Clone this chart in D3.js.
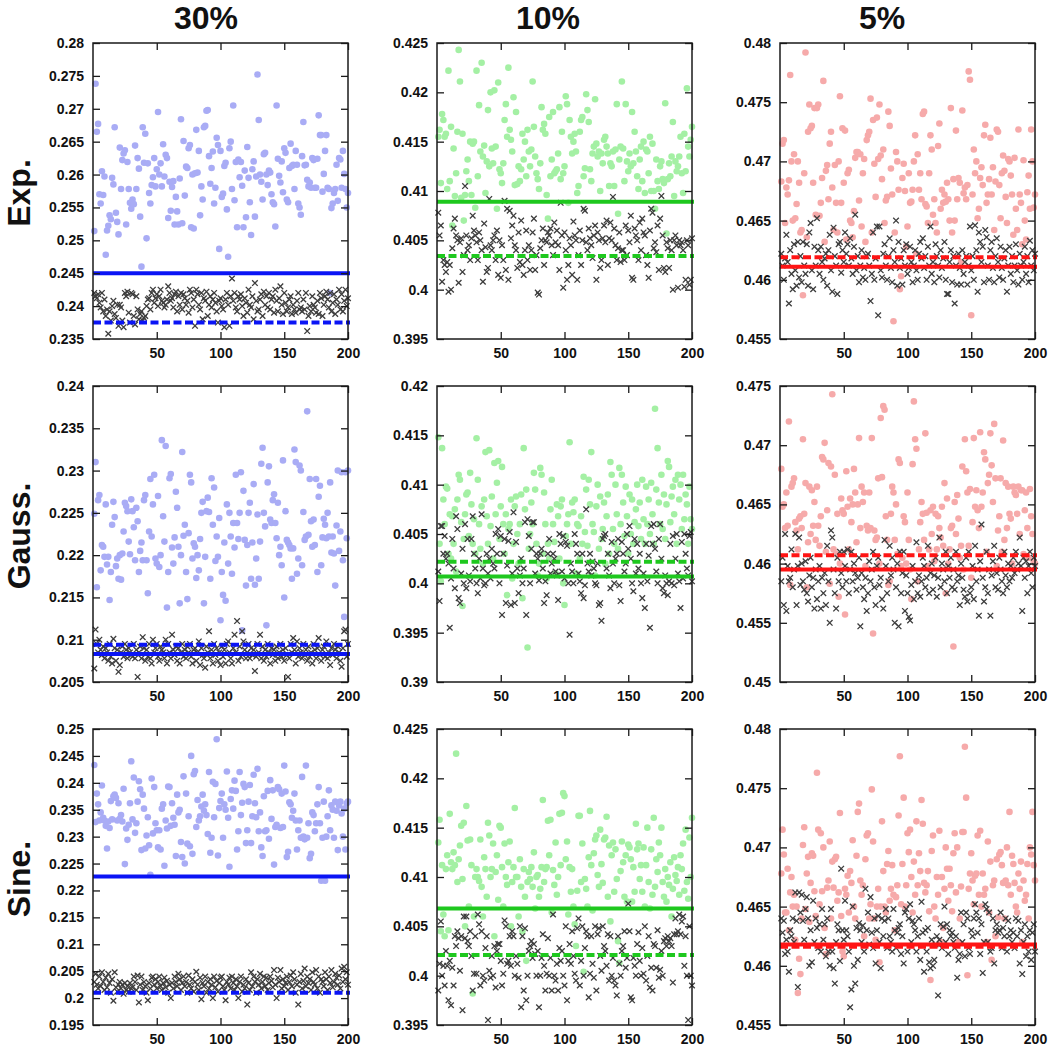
<!DOCTYPE html>
<html>
<head>
<meta charset="utf-8">
<script src="https://cdn.jsdelivr.net/npm/d3@7"></script>
<style>
html,body{margin:0;padding:0;background:#fff;}
svg{display:block;font-family:"Liberation Sans",Arial,Helvetica,sans-serif;}
</style>
</head>
<body>
<svg id="chart" width="1050" height="1050"></svg>
<script>
const rowNames = ["Exp.", "Gauss.", "Sine."];
const colNames = ["30%", "10%", "5%"];
const xTicks = [50, 100, 150, 200];
const yDomains = [[0.235,0.28],[0.395,0.425],[0.455,0.48],[0.205,0.24],[0.39,0.42],[0.45,0.475],[0.195,0.25],[0.395,0.425],[0.455,0.48]];
const solidLevels = [0.2450,0.4089,0.4611,0.2083,0.4007,0.4595,0.2226,0.4068,0.4618];
const dashedLevels = [0.2375,0.4034,0.4619,0.2094,0.4022,0.4607,0.2010,0.4021,0.4616];

const expDots30 = [.2514,.2738,.2665,.2677,.2570,.2556,.2605,.2569,.2597,.2478,
.2515,.2522,.2538,.2532,.2595,.2585,.2672,.2542,.2528,.2509,
.2641,.2578,.2622,.2632,.2637,.2524,.2619,.2578,.2557,.2548,
.2562,.2555,.2644,.2578,.2625,.2609,.2536,.2460,.2672,.2618,
.2662,.2503,.2617,.2572,.2556,.2584,.2596,.2625,.2582,.2608,
.2695,.2600,.2617,.2582,.2646,.2597,.2630,.2625,.2534,.2589,
.2545,.2581,.2590,.2524,.2566,.2544,.2524,.2594,.2684,.2526,
.2651,.2568,.2612,.2610,.2640,.2645,.2520,.2600,.2518,.2602,
.2668,.2603,.2636,.2538,.2582,.2562,.2672,.2674,.2697,.2698,
.2628,.2586,.2610,.2635,.2556,.2580,.2656,.2645,.2487,.2636,
.2566,.2571,.2613,.2618,.2547,.2475,.2640,.2650,.2578,.2705,
.2561,.2619,.2520,.2623,.2596,.2619,.2583,.2520,.2606,.2535,
.2642,.2595,.2558,.2508,.2608,.2620,.2536,.2597,.2752,.2683,
.2600,.2589,.2562,.2631,.2633,.2600,.2584,.2606,.2603,.2570,
.2558,.2555,.2521,.2705,.2624,.2598,.2588,.2620,.2573,.2640,
.2633,.2562,.2558,.2610,.2647,.2613,.2615,.2578,.2636,.2615,
.2556,.2550,.2539,.2628,.2680,.2614,.2615,.2592,.2582,.2588,
.2580,.2625,.2622,.2580,.2580,.2624,.2690,.2660,.2660,.2574,
.2601,.2636,.2660,.2580,.2578,.2420,.2549,.2556,.2572,.2578,
.2615,.2560,.2625,.2623,.2580,.2636,.2601,.2578,.2550,.2572];
const expCross30 = [.2420,.2415,.2412,.2418,.2405,.2398,.2420,.2392,.2410,.2385,
.2395,.2358,.2392,.2378,.2400,.2408,.2388,.2382,.2402,.2370,
.2402,.2398,.2378,.2368,.2420,.2415,.2422,.2390,.2375,.2420,
.2418,.2385,.2372,.2415,.2395,.2380,.2388,.2392,.2378,.2382,
.2385,.2400,.2410,.2412,.2395,.2420,.2425,.2405,.2412,.2418,
.2400,.2415,.2425,.2408,.2405,.2398,.2402,.2410,.2430,.2420,
.2408,.2412,.2398,.2418,.2422,.2392,.2415,.2402,.2420,.2395,
.2418,.2412,.2402,.2408,.2390,.2425,.2420,.2398,.2410,.2370,
.2425,.2418,.2402,.2395,.2420,.2380,.2412,.2408,.2422,.2385,
.2402,.2415,.2398,.2410,.2420,.2405,.2392,.2375,.2408,.2412,
.2400,.2395,.2368,.2410,.2420,.2402,.2370,.2415,.2442,.2408,
.2420,.2398,.2392,.2415,.2410,.2418,.2400,.2385,.2412,.2405,
.2390,.2425,.2402,.2398,.2415,.2380,.2435,.2408,.2392,.2395,
.2410,.2418,.2385,.2422,.2402,.2415,.2398,.2420,.2395,.2410,
.2415,.2390,.2425,.2408,.2392,.2412,.2430,.2402,.2388,.2420,
.2405,.2392,.2398,.2410,.2415,.2388,.2402,.2395,.2390,.2408,
.2420,.2395,.2398,.2392,.2410,.2395,.2420,.2362,.2385,.2400,
.2392,.2415,.2402,.2398,.2390,.2408,.2388,.2420,.2412,.2385,
.2402,.2415,.2422,.2410,.2398,.2420,.2392,.2405,.2418,.2388,
.2410,.2402,.2425,.2395,.2418,.2392,.2408,.2425,.2400,.2412];

const expDots10 = [.4155,.4162,.4108,.4178,.4172,.4155,.4158,.4102,.4222,.4110,
.4165,.4065,.4143,.4095,.4118,.4160,.4243,.4211,.4093,.4158,
.4070,.4096,.4120,.4132,.4110,.4150,.4096,.4148,.4150,.4083,
.4222,.4115,.4187,.4140,.4230,.4135,.4146,.4098,.4130,.4182,
.4125,.4200,.4143,.4128,.4202,.4145,.4082,.4210,.4122,.4118,
.4108,.4128,.4172,.4188,.4155,.4225,.4162,.4152,.4140,.4195,
.4106,.4180,.4107,.4125,.4110,.4122,.4158,.4132,.4150,.4115,
.4162,.4140,.4125,.4142,.4211,.4165,.4135,.4118,.4112,.4102,
.4128,.4185,.4162,.4168,.4158,.4096,.4072,.4175,.4115,.4132,
.4180,.4118,.4120,.4122,.4138,.4185,.4112,.4160,.4118,.4125,
.4196,.4188,.4088,.4172,.4155,.4138,.4150,.4158,.4140,.4098,
.4105,.4160,.4172,.4175,.4115,.4123,.4198,.4182,.4170,.4122,
.4110,.4138,.4145,.4193,.4148,.4135,.4140,.4100,.4138,.4128,
.4152,.4155,.4145,.4138,.4105,.4128,.4125,.4140,.4105,.4142,
.4188,.4077,.4132,.4145,.4211,.4143,.4110,.4188,.4130,.4120,
.4138,.4125,.4180,.4128,.4160,.4140,.4115,.4102,.4132,.4145,
.4110,.4150,.4098,.4142,.4140,.4118,.4155,.4100,.4148,.4100,
.4082,.4132,.4110,.4102,.4125,.4130,.4112,.4108,.4189,.4057,
.4112,.4128,.4115,.4135,.4170,.4095,.4130,.4120,.4125,.4135,
.4155,.4118,.4098,.4158,.4120,.4204,.4145,.4135,.4152,.4165];
const expCross10 = [.4078,.4055,.4065,.4008,.4030,.4025,.4018,.4028,.3998,.4025,
.4000,.4042,.4062,.4072,.4055,.4050,.4007,.4048,.4052,.4018,
.4035,.4105,.4055,.4040,.4045,.4030,.4052,.4075,.4060,.4055,
.4048,.4030,.4058,.4050,.4040,.4008,.4067,.4043,.4018,.4022,
.4092,.4045,.4040,.4050,.4055,.4030,.4060,.4015,.4050,.4012,
.4045,.4030,.4090,.4020,.4082,.4010,.4080,.4052,.4065,.4075,
.4045,.4040,.4022,.4058,.4028,.4070,.4025,.4015,.4040,.4060,
.4030,.4045,.4020,.4040,.4058,.4072,.4020,.4035,.3997,.3995,
.4042,.4050,.4062,.4025,.4050,.4048,.4058,.4055,.4062,.4045,
.4035,.4068,.4048,.4060,.4045,.4020,.4088,.4055,.4002,.4058,
.4040,.4010,.4025,.4052,.4045,.4015,.4069,.4055,.4050,.4010,
.4035,.4060,.4025,.4050,.4082,.4080,.4048,.4040,.4062,.4052,
.4045,.4032,.4055,.4065,.4010,.4058,.4050,.4022,.4030,.4052,
.4065,.4048,.4070,.4025,.4052,.4068,.4050,.4094,.4062,.4045,
.4030,.4042,.4058,.4028,.4040,.4040,.4030,.4065,.4035,.4060,
.4048,.4075,.4012,.4010,.4062,.4055,.4050,.4030,.4068,.4040,
.4072,.4058,.4055,.4035,.4025,.4012,.4060,.4082,.4078,.4042,
.4048,.4038,.4065,.4020,.4072,.4095,.4055,.4022,.4018,.4048,
.4042,.4022,.4050,.4040,.4000,.4050,.4055,.4045,.4002,.4050,
.4045,.4048,.4040,.4003,.4010,.4050,.4045,.4005,.4010,.4052];

const expDots5 = [.4683,.4715,.4718,.4648,.4678,.4672,.4684,.4773,.4700,.4650,
.4706,.4652,.4664,.4700,.4682,.4640,.4642,.4587,.4690,.4792,
.4636,.4725,.4748,.4728,.4730,.4682,.4745,.4655,.4745,.4748,
.4654,.4665,.4686,.4768,.4632,.4692,.4697,.4668,.4715,.4725,
.4678,.4642,.4697,.4665,.4640,.4700,.4755,.4665,.4728,.4682,
.4726,.4634,.4690,.4693,.4650,.4648,.4636,.4658,.4703,.4708,
.4708,.4667,.4706,.4645,.4690,.4702,.4632,.4718,.4722,.4725,
.4753,.4640,.4735,.4698,.4670,.4737,.4702,.4748,.4705,.4685,
.4710,.4648,.4667,.4670,.4742,.4730,.4694,.4672,.4565,.4640,
.4708,.4700,.4676,.4592,.4603,.4686,.4698,.4675,.4628,.4645,
.4690,.4665,.4666,.4676,.4700,.4722,.4622,.4706,.4676,.4690,
.4668,.4740,.4742,.4664,.4662,.4648,.4690,.4722,.4710,.4655,
.4668,.4648,.4640,.4713,.4732,.4660,.4676,.4665,.4672,.4666,
.4682,.4668,.4650,.4745,.4640,.4685,.4650,.4726,.4668,.4686,
.4682,.4615,.4743,.4673,.4678,.4668,.4680,.4776,.4769,.4570,
.4672,.4710,.4690,.4700,.4652,.4660,.4686,.4695,.4680,.4722,
.4731,.4665,.4672,.4685,.4720,.4672,.4695,.4642,.4683,.4727,
.4725,.4680,.4652,.4690,.4705,.4692,.4670,.4648,.4702,.4700,
.4688,.4672,.4638,.4703,.4660,.4642,.4727,.4672,.4665,.4630,
.4701,.4650,.4634,.4674,.4688,.4660,.4727,.4700,.4661,.4672];
const expCross5 = [.4622,.4612,.4600,.4618,.4638,.4615,.4580,.4625,.4605,.4592,
.4630,.4608,.4595,.4632,.4602,.4620,.4598,.4632,.4612,.4605,
.4630,.4595,.4640,.4648,.4608,.4592,.4628,.4612,.4652,.4625,
.4605,.4628,.4615,.4600,.4618,.4622,.4595,.4625,.4638,.4608,
.4590,.4644,.4620,.4612,.4588,.4630,.4632,.4606,.4625,.4615,
.4640,.4622,.4630,.4612,.4635,.4618,.4605,.4628,.4655,.4608,
.4620,.4598,.4612,.4625,.4602,.4610,.4600,.4620,.4622,.4612,
.4582,.4605,.4640,.4600,.4618,.4645,.4570,.4645,.4608,.4602,
.4622,.4630,.4612,.4600,.4620,.4635,.4610,.4598,.4625,.4615,
.4650,.4595,.4632,.4610,.4618,.4596,.4625,.4612,.4630,.4605,
.4610,.4628,.4615,.4598,.4612,.4625,.4608,.4600,.4622,.4632,
.4618,.4635,.4610,.4620,.4600,.4628,.4612,.4645,.4605,.4615,
.4598,.4630,.4620,.4612,.4602,.4625,.4610,.4618,.4632,.4600,
.4588,.4588,.4615,.4625,.4598,.4620,.4580,.4612,.4596,.4622,
.4610,.4596,.4625,.4605,.4615,.4620,.4596,.4612,.4645,.4608,
.4620,.4600,.4646,.4625,.4590,.4640,.4632,.4615,.4628,.4598,
.4642,.4636,.4612,.4600,.4625,.4632,.4610,.4598,.4620,.4635,
.4615,.4602,.4628,.4610,.4600,.4618,.4625,.4590,.4612,.4628,
.4605,.4620,.4598,.4612,.4630,.4608,.4596,.4622,.4612,.4600,
.4615,.4628,.4605,.4620,.4598,.4633,.4612,.4625,.4608,.4622];

const gaussDots30 = [.2249,.2310,.2162,.2265,.2271,.2182,.2212,.2210,.2198,.2260,
.2189,.2198,.2147,.2180,.2236,.2263,.2245,.2187,.2196,.2172,
.2200,.2171,.2202,.2228,.2262,.2258,.2252,.2216,.2201,.2266,
.2252,.2233,.2194,.2256,.2240,.2180,.2205,.2215,.2194,.2265,
.2271,.2194,.2155,.2228,.2290,.2222,.2260,.2295,.2196,.2190,
.2270,.2186,.2200,.2336,.2246,.2216,.2329,.2138,.2180,.2291,
.2296,.2209,.2190,.2221,.2275,.2256,.2210,.2143,.2200,.2322,
.2223,.2236,.2180,.2148,.2226,.2295,.2286,.2196,.2214,.2210,
.2173,.2200,.2182,.2219,.2250,.2263,.2143,.2198,.2252,.2268,
.2251,.2172,.2291,.2236,.2280,.2193,.2222,.2198,.2244,.2123,
.2180,.2153,.2215,.2146,.2260,.2190,.2250,.2222,.2178,.2238,
.2209,.2295,.2238,.2219,.2250,.2298,.2111,.2276,.2218,.2164,
.2212,.2250,.2262,.2172,.2215,.2284,.2165,.2196,.2248,.2172,
.2216,.2308,.2327,.2250,.2234,.2117,.2286,.2305,.2242,.2238,
.2265,.2272,.2238,.2220,.2262,.2200,.2210,.2188,.2312,.2150,
.2252,.2218,.2215,.2212,.2208,.2172,.2208,.2325,.2310,.2178,
.2196,.2306,.2300,.2188,.2251,.2218,.2222,.2370,.2224,.2290,
.2240,.2210,.2242,.2212,.2290,.2180,.2269,.2282,.2188,.2221,
.2243,.2236,.2220,.2250,.2222,.2286,.2203,.2222,.2202,.2164,
.2235,.2300,.2205,.2228,.2298,.2194,.2127,.2298,.2220,.2300];
const gaussCross30 = [.2066,.2112,.2095,.2085,.2100,.2088,.2082,.2092,.2078,.2090,
.2085,.2075,.2095,.2080,.2072,.2101,.2090,.2075,.2088,.2062,
.2070,.2085,.2092,.2080,.2095,.2088,.2078,.2090,.2085,.2082,
.2080,.2095,.2078,.2088,.2056,.2085,.2092,.2078,.2103,.2090,
.2075,.2088,.2080,.2095,.2078,.2072,.2100,.2085,.2090,.2095,
.2080,.2075,.2092,.2088,.2085,.2078,.2100,.2072,.2095,.2085,
.2078,.2106,.2088,.2082,.2092,.2075,.2090,.2072,.2085,.2095,
.2080,.2088,.2078,.2092,.2085,.2095,.2080,.2072,.2088,.2090,
.2075,.2085,.2098,.2070,.2090,.2082,.2078,.2067,.2092,.2085,
.2110,.2078,.2088,.2072,.2095,.2082,.2090,.2075,.2085,.2070,
.2092,.2080,.2088,.2072,.2095,.2098,.2085,.2078,.2072,.2090,
.2106,.2085,.2122,.2075,.2092,.2080,.2110,.2098,.2088,.2078,
.2085,.2095,.2078,.2090,.2082,.2088,.2063,.2080,.2095,.2085,
.2106,.2078,.2092,.2075,.2088,.2080,.2095,.2085,.2072,.2090,
.2082,.2088,.2075,.2092,.2078,.2085,.2095,.2080,.2088,.2075,
.2090,.2082,.2056,.2078,.2095,.2085,.2102,.2088,.2072,.2098,
.2080,.2090,.2085,.2078,.2095,.2082,.2088,.2075,.2092,.2080,
.2085,.2072,.2095,.2088,.2078,.2090,.2102,.2082,.2075,.2088,
.2092,.2080,.2098,.2078,.2085,.2070,.2090,.2082,.2095,.2088,
.2078,.2092,.2085,.2075,.2068,.2090,.2110,.2112,.2080,.2095];

const gaussDots10 = [.4148,.4040,.4002,.4137,.4085,.4060,.4098,.4096,.4030,.4070,
.4025,.4068,.4040,.4075,.4012,.4085,.4110,.4105,.4062,.3977,
.4045,.4070,.4090,.4092,.4048,.4112,.4080,.4040,.4065,.4030,
.4147,.4105,.4060,.4035,.4078,.4020,.4085,.4133,.4068,.4040,
.4135,.4058,.4088,.4025,.4122,.4070,.4102,.4124,.4045,.4078,
.4118,.4060,.4030,.4070,.3988,.4055,.4060,.4085,.4005,.4040,
.4078,.4088,.4050,.4020,.4060,.4090,.3985,.4137,.4075,.4095,
.3935,.4035,.4050,.4082,.4060,.4112,.4095,.4040,.4008,.4020,
.4117,.4110,.4030,.4092,.4060,.4005,.4040,.4025,.4075,.4105,
.4060,.4042,.4010,.4080,.4068,.4025,.4078,.4085,.4000,.3978,
.4048,.4060,.4070,.4143,.4040,.4082,.4072,.4085,.4010,.4060,
.4058,.4025,.4068,.4040,.4108,.4052,.4095,.4038,.4105,.4080,
.4133,.4060,.4052,.4008,.4078,.4100,.4035,.4088,.4045,.4055,
.4082,.4020,.4068,.4090,.4030,.4123,.4110,.4055,.4040,.4100,
.4070,.4035,.4117,.4060,.4110,.4082,.4048,.4098,.4068,.4030,
.4090,.4050,.4085,.4040,.4062,.4075,.4100,.4058,.4082,.4045,
.4105,.4065,.4040,.4098,.4060,.4085,.4050,.4102,.4070,.4040,
.4177,.4095,.4137,.4082,.4060,.4110,.4055,.4090,.4045,.4080,
.4124,.4118,.4062,.4088,.4098,.4070,.4105,.4040,.4110,.4085,
.4100,.4055,.4110,.4065,.4090,.4080,.4040,.4098,.4065,.4055];
const gaussCross10 = [.4012,.3982,.4058,.4058,.4030,.4048,.4025,.4030,.4020,.3955,
.4005,.4045,.4015,.3995,.4068,.4055,.3985,.3980,.4010,.4035,
.4000,.4060,.3995,.4045,.4008,.4002,.4045,.4068,.4030,.4015,
.4000,.3990,.4025,.4005,.4070,.4015,.3998,.4000,.4030,.4010,
.4025,.4005,.4035,.4020,.4015,.4050,.4030,.4055,.4000,.4048,
.3968,.4030,.4045,.3980,.4018,.4043,.4052,.3978,.4010,.4072,
.3980,.4042,.4015,.3990,.4008,.4025,.4000,.4015,.4062,.3968,
.4065,.4048,.4000,.4035,.4062,.4062,.4010,.4030,.4025,.4003,
.4030,.4035,.4015,.3980,.4002,.3988,.4030,.4045,.4010,.4020,
.4030,.4025,.4012,.4008,.3983,.4050,.4040,.4012,.4048,.4005,
.4042,.4038,.4000,.3948,.4020,.4012,.4000,.4050,.4040,.4030,
.4010,.4002,.3990,.4030,.3985,.3998,.4075,.4020,.4012,.4030,
.4008,.4022,.4015,.4000,.3998,.4020,.3978,.3980,.3962,.4045,
.4048,.4050,.4015,.4030,.4008,.3995,.4042,.4020,.4000,.4025,
.4030,.4045,.3998,.3982,.4042,.4030,.4012,.4020,.4050,.4035,
.4058,.4025,.4000,.3992,.4045,.4010,.4040,.4015,.4030,.4000,
.3985,.4010,.3975,.4040,.4002,.4028,.3955,.4058,.4040,.4060,
.4035,.4012,.4000,.4045,.4060,.4025,.3995,.3990,.4008,.4000,
.3988,.4002,.4040,.4000,.4048,.3998,.4025,.4050,.4010,.4002,
.3975,.4042,.4005,.4050,.4030,.4015,.4008,.4048,.4052,.4002];

const gaussDots5 = [.4680,.4648,.4650,.4630,.4660,.4632,.4720,.4582,.4665,.4668,
.4672,.4635,.4628,.4612,.4638,.4640,.4630,.4705,.4642,.4668,
.4580,.4618,.4665,.4625,.4662,.4632,.4652,.4620,.4665,.4632,
.4615,.4640,.4690,.4688,.4702,.4610,.4645,.4685,.4583,.4682,
.4743,.4612,.4675,.4608,.4642,.4572,.4600,.4655,.4645,.4642,
.4557,.4678,.4648,.4612,.4655,.4635,.4650,.4680,.4660,.4618,
.4650,.4706,.4630,.4665,.4652,.4660,.4598,.4632,.4628,.4660,
.4630,.4706,.4541,.4628,.4620,.4622,.4672,.4600,.4723,.4673,
.4733,.4730,.4640,.4620,.4582,.4585,.4642,.4665,.4660,.4620,
.4650,.4608,.4688,.4685,.4598,.4605,.4640,.4635,.4600,.4660,
.4620,.4595,.4570,.4684,.4737,.4705,.4697,.4585,.4612,.4635,
.4652,.4642,.4620,.4710,.4643,.4598,.4612,.4645,.4625,.4648,
.4602,.4642,.4612,.4640,.4630,.4622,.4648,.4615,.4668,.4575,
.4655,.4600,.4612,.4630,.4632,.4530,.4652,.4625,.4658,.4638,
.4605,.4615,.4682,.4595,.4705,.4678,.4660,.4615,.4663,.4588,
.4635,.4706,.4648,.4662,.4645,.4630,.4711,.4648,.4660,.4694,
.4688,.4610,.4668,.4675,.4710,.4683,.4652,.4718,.4672,.4598,
.4628,.4640,.4672,.4610,.4704,.4620,.4668,.4630,.4665,.4642,
.4638,.4600,.4665,.4660,.4658,.4642,.4665,.4625,.4662,.4662,
.4608,.4645,.4660,.4630,.4605,.4663,.4640,.4625,.4602,.4600];
const gaussCross5 = [.4585,.4605,.4565,.4625,.4560,.4598,.4585,.4588,.4612,.4580,
.4595,.4625,.4565,.4598,.4622,.4582,.4600,.4585,.4578,.4602,
.4575,.4568,.4590,.4605,.4580,.4588,.4562,.4595,.4570,.4585,
.4598,.4562,.4588,.4575,.4592,.4565,.4615,.4585,.4550,.4628,
.4622,.4595,.4575,.4562,.4605,.4585,.4610,.4592,.4580,.4610,
.4598,.4585,.4612,.4575,.4595,.4610,.4585,.4600,.4592,.4578,
.4588,.4605,.4547,.4592,.4580,.4570,.4588,.4560,.4575,.4602,
.4585,.4595,.4610,.4580,.4565,.4598,.4605,.4582,.4588,.4570,
.4562,.4620,.4598,.4575,.4585,.4615,.4590,.4605,.4595,.4550,
.4580,.4600,.4547,.4610,.4575,.4592,.4610,.4560,.4590,.4575,
.4555,.4552,.4582,.4598,.4570,.4585,.4618,.4575,.4590,.4572,
.4585,.4605,.4598,.4580,.4588,.4615,.4575,.4592,.4600,.4578,
.4590,.4605,.4572,.4588,.4622,.4580,.4600,.4595,.4585,.4610,
.4575,.4598,.4588,.4605,.4580,.4595,.4578,.4610,.4585,.4590,
.4565,.4600,.4588,.4578,.4572,.4605,.4568,.4610,.4575,.4580,
.4598,.4570,.4615,.4585,.4595,.4556,.4602,.4633,.4588,.4568,
.4580,.4610,.4575,.4595,.4556,.4590,.4602,.4615,.4580,.4592,
.4578,.4605,.4595,.4585,.4575,.4610,.4590,.4580,.4600,.4585,
.4598,.4588,.4605,.4592,.4610,.4595,.4600,.4622,.4598,.4560,
.4605,.4588,.4602,.4575,.4598,.4610,.4592,.4580,.4605,.4598];

const sineDots30 = [.2433,.2327,.2380,.2360,.2330,.2345,.2395,.2335,.2330,.2320,
.2278,.2328,.2316,.2366,.2332,.2375,.2378,.2372,.2330,.2362,
.2333,.2340,.2328,.2389,.2249,.2315,.2294,.2322,.2362,.2440,
.2332,.2410,.2307,.2325,.2365,.2403,.2388,.2275,.2378,.2352,
.2278,.2302,.2336,.2284,.2229,.2408,.2306,.2392,.2325,.2312,
.2280,.2312,.2276,.2352,.2360,.2246,.2330,.2315,.2393,.2392,
.2320,.2362,.2335,.2322,.2264,.2378,.2345,.2350,.2290,.2262,
.2412,.2250,.2380,.2287,.2338,.2282,.2450,.2268,.2416,.2422,
.2318,.2368,.2330,.2338,.2356,.2378,.2348,.2360,.2340,.2305,
.2420,.2270,.2298,.2402,.2336,.2398,.2481,.2265,.2353,.2366,
.2380,.2298,.2360,.2350,.2421,.2335,.2244,.2370,.2386,.2352,
.2404,.2385,.2276,.2310,.2420,.2340,.2363,.2398,.2392,.2288,
.2312,.2365,.2396,.2288,.2338,.2415,.2362,.2336,.2426,.2310,
.2345,.2280,.2264,.2375,.2310,.2312,.2385,.2296,.2405,.2333,
.2386,.2248,.2318,.2322,.2392,.2388,.2316,.2380,.2318,.2432,
.2384,.2262,.2272,.2364,.2360,.2335,.2348,.2380,.2330,.2276,
.2312,.2330,.2298,.2411,.2300,.2295,.2432,.2298,.2325,.2260,
.2268,.2345,.2340,.2310,.2325,.2360,.2392,.2325,.2218,.2298,
.2365,.2218,.2300,.2338,.2386,.2312,.2358,.2350,.2298,.2365,
.2348,.2275,.2358,.2365,.2343,.2300,.2352,.2276,.2362,.2365];
const sineCross30 = [.2030,.2045,.2025,.2018,.2040,.2022,.2048,.2030,.2015,.2038,
.2020,.2045,.2028,.2010,.2035,.1995,.2048,.2020,.2012,.2025,
.2030,.2018,.2025,.2008,.2028,.2015,.2022,.2012,.2028,.2018,
.2020,.2040,.2030,.2015,.2042,.1992,.2025,.2040,.2015,.2030,
.2022,.2010,.1996,.2028,.2018,.2038,.2040,.2025,.2035,.2018,
.2030,.2040,.2022,.2015,.2028,.2038,.2020,.2032,.2010,.2025,
.2000,.2028,.2018,.2040,.2030,.2022,.2045,.2035,.2015,.2028,
.2040,.2022,.2030,.2010,.2042,.2025,.2018,.2035,.2012,.2030,
.2049,.2025,.2015,.2038,.1998,.2028,.2022,.2040,.2010,.2030,
.2018,.2035,.2025,.2000,.2040,.2020,.2032,.2012,.2028,.2038,
.2040,.2022,.2015,.1996,.2030,.2025,.2038,.2018,.2040,.2028,
.2015,.2035,.2022,.2000,.2030,.2040,.2012,.2025,.2018,.2035,
.1988,.2028,.2015,.2048,.2022,.2040,.2030,.2010,.2035,.2025,
.2045,.2018,.2030,.2040,.2022,.2038,.2015,.2028,.2040,.2032,
.2020,.2052,.2025,.2000,.2038,.2030,.2052,.2018,.2035,.2022,
.2028,.2040,.2015,.2030,.2042,.2022,.2048,.2035,.2010,.2025,
.1988,.2030,.2045,.2018,.2032,.2055,.2022,.2040,.2028,.2035,
.2015,.2048,.2030,.2025,.2052,.2018,.2040,.2010,.2035,.2030,
.2022,.2048,.2035,.2015,.2040,.2028,.2052,.2020,.2030,.2045,
.2038,.2025,.2042,.2018,.2055,.2030,.2058,.2035,.2048,.2025];

const sineDots10 = [.4135,.4158,.4045,.4112,.4062,.4040,.4108,.4122,.4046,.4164,
.4115,.4108,.4125,.4112,.4225,.4095,.4118,.4132,.4152,.4098,
.4155,.4050,.4172,.4137,.4070,.4138,.4112,.3982,.4060,.4100,
.4108,.4100,.4096,.4138,.4090,.4060,.4120,.4108,.4080,.4155,
.4142,.4100,.4108,.4134,.4040,.4105,.4122,.4077,.4152,.4150,
.4110,.4070,.4134,.4100,.4092,.4115,.4136,.4050,.4095,.4110,
.4170,.4100,.4100,.4060,.4118,.4090,.4045,.4108,.4080,.4015,
.4095,.4105,.4098,.4110,.4090,.4125,.4068,.4100,.4102,.4080,
.4088,.4110,.4178,.4095,.4108,.4110,.4157,.4122,.4158,.4064,
.4107,.4092,.4135,.4082,.4100,.4164,.4112,.4165,.4185,.4182,
.4118,.4136,.4062,.4110,.4085,.4108,.4070,.4052,.4030,.4086,
.4162,.4162,.4095,.4134,.4004,.4098,.4088,.4070,.4120,.4167,
.4112,.4066,.4124,.4138,.4142,.4102,.4090,.4148,.4113,.4094,
.4138,.4140,.4161,.4080,.4132,.4055,.4122,.4135,.4085,.4128,
.4098,.4035,.4013,.4106,.4136,.4115,.4080,.4122,.4075,.4133,
.4130,.4118,.4075,.4110,.4085,.4154,.4128,.4134,.4098,.4112,
.4085,.4130,.4070,.4112,.4150,.4095,.4068,.4128,.4082,.4160,
.4090,.4118,.4105,.4135,.4122,.4150,.4095,.4080,.4108,.4075,
.4100,.4092,.4115,.4060,.4088,.4120,.4102,.4096,.4110,.4082,
.4122,.4108,.4134,.4086,.4148,.4095,.4078,.4140,.4100,.4160];
const sineCross10 = [.3985,.4012,.4055,.4000,.4010,.3990,.4025,.4010,.3975,.4015,
.3970,.4008,.3990,.4040,.4030,.4045,.4038,.4005,.4040,.3965,
.4060,.4038,.4060,.4035,.4030,.4045,.4020,.3985,.4002,.4040,
.4002,.4062,.4052,.3990,.4045,.4000,.3995,.4028,.4040,.3955,
.4005,.3998,.4020,.4000,.4030,.3988,.4025,.4032,.4032,.4015,
.3990,.4002,.4056,.4050,.4012,.4015,.4040,.4010,.4045,.4040,
.4000,.4020,.4012,.3998,.4050,.3968,.4040,.3985,.4048,.3975,
.4000,.4025,.4030,.4035,.4018,.4032,.4022,.4000,.4025,.3968,
.4000,.4018,.4042,.4010,.3985,.4002,.4038,.4000,.4018,.3985,
.4062,.4000,.3995,.4012,.3985,.4028,.4015,.4025,.4000,.3990,
.4050,.3975,.4015,.4032,.4012,.4045,.4020,.4002,.3995,.4048,
.4058,.3990,.4015,.4050,.4000,.4028,.4045,.4040,.3978,.4002,
.4040,.4012,.3998,.4050,.3985,.4042,.4048,.4020,.4005,.4050,
.4030,.4025,.4010,.4042,.3995,.4040,.4000,.4018,.3995,.3990,
.3980,.4040,.4012,.4000,.4025,.4030,.4045,.4008,.4018,.4073,
.4045,.3978,.3975,.4018,.4010,.4000,.4032,.4044,.4015,.4000,
.4028,.4002,.4050,.3995,.4020,.4040,.3988,.4008,.3985,.4032,
.4030,.4008,.4046,.3998,.4006,.4025,.4000,.4035,.4038,.4030,
.4040,.4035,.4038,.4030,.3993,.4042,.4058,.4042,.4045,.4062,
.4042,.4055,.4060,.4010,.4040,.4000,.3955,.4050,.4000,.3990];

const sineDots5 = [.4678,.4715,.4694,.4645,.4645,.4682,.4630,.4662,.4675,.4650,
.4660,.4622,.4650,.4577,.4606,.4593,.4640,.4702,.4717,.4648,
.4678,.4692,.4637,.4670,.4695,.4693,.4663,.4642,.4763,.4715,
.4652,.4712,.4663,.4700,.4632,.4610,.4666,.4672,.4705,.4640,
.4688,.4666,.4690,.4692,.4655,.4662,.4729,.4642,.4612,.4608,
.4665,.4660,.4676,.4645,.4680,.4670,.4706,.4650,.4640,.4693,
.4730,.4737,.4672,.4660,.4668,.4625,.4690,.4710,.4712,.4640,
.4652,.4749,.4705,.4640,.4622,.4650,.4665,.4603,.4650,.4722,
.4680,.4650,.4645,.4686,.4697,.4655,.4665,.4685,.4660,.4630,
.4658,.4668,.4727,.4777,.4652,.4686,.4742,.4650,.4668,.4712,
.4696,.4715,.4675,.4645,.4688,.4660,.4722,.4668,.4695,.4680,
.4740,.4720,.4670,.4662,.4668,.4680,.4646,.4588,.4697,.4710,
.4650,.4640,.4675,.4660,.4714,.4620,.4675,.4632,.4665,.4700,
.4682,.4655,.4682,.4668,.4646,.4695,.4712,.4662,.4700,.4620,
.4640,.4667,.4713,.4713,.4785,.4742,.4592,.4665,.4678,.4695,
.4672,.4652,.4676,.4678,.4710,.4660,.4714,.4650,.4678,.4660,
.4665,.4620,.4705,.4645,.4688,.4605,.4668,.4672,.4625,.4690,
.4641,.4694,.4696,.4685,.4670,.4640,.4672,.4700,.4668,.4730,
.4660,.4693,.4686,.4670,.4650,.4645,.4678,.4665,.4688,.4620,
.4672,.4655,.4660,.4686,.4640,.4700,.4694,.4730,.4685,.4672];
const sineCross5 = [.4640,.4628,.4638,.4610,.4622,.4612,.4595,.4630,.4625,.4640,
.4620,.4662,.4638,.4582,.4662,.4645,.4660,.4638,.4622,.4648,
.4658,.4640,.4600,.4630,.4603,.4655,.4620,.4640,.4632,.4615,
.4635,.4612,.4648,.4622,.4635,.4608,.4640,.4612,.4600,.4648,
.4612,.4598,.4585,.4620,.4635,.4630,.4604,.4682,.4630,.4622,
.4655,.4630,.4625,.4612,.4565,.4580,.4650,.4600,.4585,.4632,
.4605,.4636,.4630,.4620,.4634,.4612,.4665,.4630,.4645,.4618,
.4658,.4628,.4615,.4640,.4602,.4630,.4642,.4620,.4598,.4640,
.4625,.4638,.4648,.4615,.4640,.4625,.4620,.4612,.4648,.4630,
.4615,.4628,.4632,.4635,.4610,.4625,.4602,.4645,.4648,.4612,
.4640,.4652,.4620,.4638,.4635,.4630,.4612,.4625,.4640,.4605,
.4654,.4628,.4595,.4630,.4612,.4632,.4603,.4598,.4622,.4600,
.4605,.4618,.4625,.4575,.4622,.4635,.4615,.4633,.4650,.4620,
.4635,.4610,.4630,.4625,.4628,.4620,.4615,.4625,.4590,.4605,
.4610,.4645,.4620,.4635,.4608,.4645,.4640,.4615,.4610,.4630,
.4625,.4640,.4652,.4645,.4628,.4640,.4610,.4635,.4594,.4620,
.4652,.4648,.4620,.4645,.4612,.4615,.4640,.4602,.4630,.4635,
.4628,.4630,.4645,.4615,.4632,.4625,.4640,.4612,.4638,.4625,
.4630,.4620,.4628,.4615,.4640,.4625,.4638,.4602,.4630,.4593,
.4620,.4635,.4608,.4625,.4612,.4630,.4605,.4628,.4635,.4612];

const dotSeries = [expDots30, expDots10, expDots5, gaussDots30, gaussDots10, gaussDots5, sineDots30, sineDots10, sineDots5];
const crossSeries = [expCross30, expCross10, expCross5, gaussCross30, gaussCross10, gaussCross5, sineCross30, sineCross10, sineCross5];

// ---- layout & style ----
const colLeft = [93, 437, 780];
const rowTop = [43, 386, 729];
const pw = 255, ph = 296;
const dotColors = ["#a9acf5", "#a4f0a4", "#f6aaaa"];
const lineColors = ["#0a14f5", "#1ec81e", "#ff1414"];
const titleX = [206, 548, 882];

const svg = d3.select("#chart");
svg.append("rect").attr("width", 1050).attr("height", 1050).attr("fill", "#fff");

colNames.forEach((t, c) => {
  svg.append("text").attr("x", titleX[c]).attr("y", 29)
    .attr("text-anchor", "middle").attr("font-size", 32).attr("font-weight", "bold")
    .attr("fill", "#111").text(t);
});
rowNames.forEach((t, r) => {
  const cy = rowTop[r] + ph / 2 + 2;
  svg.append("text").attr("transform", `translate(30,${cy}) rotate(-90)`)
    .attr("text-anchor", "middle").attr("font-size", 32).attr("font-weight", "bold")
    .attr("fill", "#111").text(t);
});

const crossPath = "M-2.8,-2.8L2.8,2.8M-2.8,2.8L2.8,-2.8";

for (let r = 0; r < 3; r++) {
  for (let c = 0; c < 3; c++) {
    const k = r * 3 + c;
    const x0 = colLeft[c], y0 = rowTop[r];
    const g = svg.append("g").attr("transform", `translate(${x0},${y0})`);
    const x = d3.scaleLinear().domain([0, 200]).range([0, pw]);
    const [lo, hi] = yDomains[k];
    const y = d3.scaleLinear().domain([lo, hi]).range([ph, 0]);
    const nT = Math.round((hi - lo) / 0.005);
    const yTicks = d3.range(nT + 1).map(i => +(lo + i * 0.005).toFixed(3));

    // dots
    g.append("g").selectAll("circle").data(dotSeries[k]).join("circle")
      .attr("cx", (d, i) => x(i + 1)).attr("cy", d => y(d)).attr("r", 3.3)
      .attr("fill", dotColors[c]);
    // crosses
    g.append("g").selectAll("path").data(crossSeries[k]).join("path")
      .attr("transform", (d, i) => `translate(${x(i + 1)},${y(d)})`)
      .attr("d", crossPath).attr("stroke", "#3d3d3d").attr("stroke-width", 1.3).attr("fill", "none");
    // lines
    g.append("line").attr("x1", x(0)).attr("x2", x(200) + 2)
      .attr("y1", y(solidLevels[k])).attr("y2", y(solidLevels[k]))
      .attr("stroke", lineColors[c]).attr("stroke-width", 4);
    g.append("line").attr("x1", x(0)).attr("x2", x(200) + 2)
      .attr("y1", y(dashedLevels[k])).attr("y2", y(dashedLevels[k]))
      .attr("stroke", lineColors[c]).attr("stroke-width", 4).attr("stroke-dasharray", "8,3.5");

    // axes (gnuplot style: inward ticks, mirrored)
    const axL = d3.axisLeft(y).tickValues(yTicks).tickSize(-7).tickPadding(9)
      .tickFormat(d => String(+d.toFixed(3)));
    const gl = g.append("g").call(axL);
    const axR = d3.axisRight(y).tickValues(yTicks).tickSize(-7).tickFormat("");
    const gr = g.append("g").attr("transform", `translate(${pw},0)`).call(axR);
    const axB = d3.axisBottom(x).tickValues(xTicks).tickSize(-7).tickPadding(9).tickFormat(d3.format("d"));
    const gb = g.append("g").attr("transform", `translate(0,${ph})`).call(axB);
    const axT = d3.axisTop(x).tickValues(xTicks).tickSize(-7).tickFormat("");
    const gt = g.append("g").call(axT);
    [gl, gr, gb, gt].forEach(a => {
      a.select(".domain").remove();
      a.selectAll(".tick line").attr("stroke", "#1a1a1a").attr("stroke-width", 1.3);
      a.selectAll("text").attr("font-size", 14).attr("font-weight", "bold")
        .attr("fill", "#111").attr("font-family", '"Liberation Sans", Arial, sans-serif');
    });
    g.append("rect").attr("x", 0).attr("y", 0).attr("width", pw).attr("height", ph)
      .attr("fill", "none").attr("stroke", "#1a1a1a").attr("stroke-width", 1.5);
  }
}
</script>
</body>
</html>
